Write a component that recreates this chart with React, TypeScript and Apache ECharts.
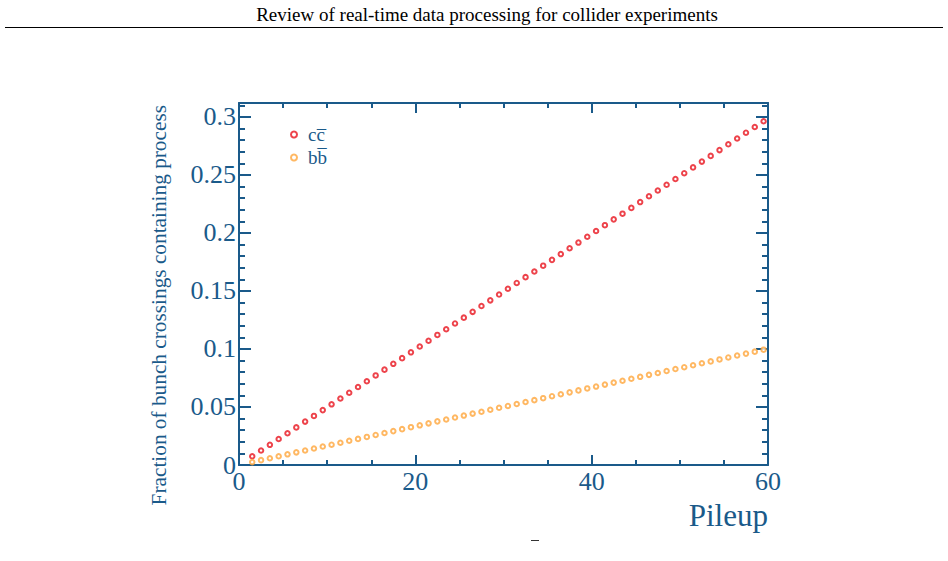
import React, { useEffect, useRef } from "react";
import * as echarts from "echarts";

const pileup = [1.5, 2.5, 3.5, 4.5, 5.5, 6.5, 7.5, 8.5, 9.5, 10.5, 11.5, 12.5, 13.5, 14.5, 15.5, 16.5, 17.5, 18.5, 19.5, 20.5, 21.5, 22.5, 23.5, 24.5, 25.5, 26.5, 27.5, 28.5, 29.5, 30.5, 31.5, 32.5, 33.5, 34.5, 35.5, 36.5, 37.5, 38.5, 39.5, 40.5, 41.5, 42.5, 43.5, 44.5, 45.5, 46.5, 47.5, 48.5, 49.5, 50.5, 51.5, 52.5, 53.5, 54.5, 55.5, 56.5, 57.5, 58.5, 59.5];

const ccbar = [0.0075, 0.0125, 0.0174, 0.0224, 0.0274, 0.0324, 0.0374, 0.0423, 0.0473, 0.0523, 0.0573, 0.0623, 0.0672, 0.0722, 0.0772, 0.0822, 0.0872, 0.0921, 0.0971, 0.1021, 0.1071, 0.1121, 0.117, 0.122, 0.127, 0.132, 0.137, 0.1419, 0.1469, 0.1519, 0.1569, 0.1619, 0.1668, 0.1718, 0.1768, 0.1818, 0.1868, 0.1917, 0.1967, 0.2017, 0.2067, 0.2117, 0.2166, 0.2216, 0.2266, 0.2316, 0.2366, 0.2415, 0.2465, 0.2515, 0.2565, 0.2615, 0.2664, 0.2714, 0.2764, 0.2814, 0.2864, 0.2913, 0.2963];

const bbbar = [0.0025, 0.0042, 0.0058, 0.0075, 0.0092, 0.0109, 0.0125, 0.0142, 0.0159, 0.0175, 0.0192, 0.0209, 0.0225, 0.0242, 0.0259, 0.0276, 0.0292, 0.0309, 0.0326, 0.0342, 0.0359, 0.0376, 0.0392, 0.0409, 0.0426, 0.0443, 0.0459, 0.0476, 0.0493, 0.0509, 0.0526, 0.0543, 0.0559, 0.0576, 0.0593, 0.061, 0.0626, 0.0643, 0.066, 0.0676, 0.0693, 0.071, 0.0726, 0.0743, 0.076, 0.0777, 0.0793, 0.081, 0.0827, 0.0843, 0.086, 0.0877, 0.0893, 0.091, 0.0927, 0.0944, 0.096, 0.0977, 0.0994];

const seriesNames = ["c\u0063\u0305", "b\u0062\u0305"];
const pageTitle = "Review of real-time data processing for collider experiments";
const xTitle = "Pileup";
const yTitle = "Fraction of bunch crossings containing process";

const BLUE = "#1a5a8a";
const RED = "#e8141e";
const ORANGE = "#ffa63c";
const FONT = "Liberation Serif";

export default function App() {
  const ref = useRef<HTMLDivElement>(null);
  useEffect(() => {
    if (!ref.current) return;
    const chart = echarts.init(ref.current, null, { renderer: "svg" });
    const xCommon = (show: boolean) => ({
      type: "value",
      min: 0,
      max: 60,
      interval: 20,
      axisLine: { show: true, onZero: false, lineStyle: { color: BLUE, width: 2 } },
      axisTick: { show: true, inside: true, length: 10, lineStyle: { color: BLUE, width: 2 } },
      minorTick: { show: true, splitNumber: 4, length: 5, lineStyle: { color: BLUE, width: 2 } },
      splitLine: { show: false },
      axisLabel: {
        show,
        color: BLUE,
        fontFamily: FONT,
        fontSize: 26,
        margin: 3,
      },
    });
    const yCommon = (show: boolean) => ({
      type: "value",
      min: 0,
      max: 0.312,
      interval: 0.05,
      axisLine: { show: true, onZero: false, lineStyle: { color: BLUE, width: 2 } },
      axisTick: { show: true, inside: true, length: 12, lineStyle: { color: BLUE, width: 2 } },
      minorTick: { show: true, splitNumber: 5, length: 6, lineStyle: { color: BLUE, width: 2 } },
      splitLine: { show: false },
      axisLabel: {
        show,
        color: BLUE,
        fontFamily: FONT,
        fontSize: 26,
        margin: 3,
        showMaxLabel: false,
      },
    });
    chart.setOption({
      animation: false,
      backgroundColor: "#ffffff",
      grid: { left: 239, right: 180, top: 103, bottom: 96 },
      xAxis: [
        { ...xCommon(true), position: "bottom" },
        { ...xCommon(false), position: "top" },
      ],
      yAxis: [
        { ...yCommon(true), position: "left" },
        { ...yCommon(false), position: "right" },
      ],
      legend: {
        orient: "vertical",
        left: 285,
        top: 120,
        itemGap: 4,
        itemWidth: 6,
        itemHeight: 6,
        textStyle: { color: BLUE, fontFamily: FONT, fontSize: 19, padding: [0, 0, 0, 6] },
        data: [
          { name: seriesNames[0], icon: "emptyCircle" },
          { name: seriesNames[1], icon: "emptyCircle" },
        ],
      },
      series: [
        {
          name: seriesNames[0],
          type: "scatter",
          symbol: "emptyCircle",
          symbolSize: 4.5,
          itemStyle: { color: RED, borderColor: RED, borderWidth: 0.9 },
          data: pileup.map((x, i) => [x, ccbar[i]]),
        },
        {
          name: seriesNames[1],
          type: "scatter",
          symbol: "emptyCircle",
          symbolSize: 4.5,
          itemStyle: { color: ORANGE, borderColor: ORANGE, borderWidth: 0.9 },
          data: pileup.map((x, i) => [x, bbbar[i]]),
        },
      ],
      graphic: [
        {
          type: "text",
          x: 487,
          y: 14,
          style: {
            text: pageTitle,
            fontFamily: FONT,
            fontSize: 19,
            fill: "#000",
            align: "center",
            verticalAlign: "middle",
          },
        },
        {
          type: "line",
          shape: { x1: 5, y1: 27.5, x2: 943, y2: 27.5 },
          style: { stroke: "#000", lineWidth: 1 },
        },
        {
          type: "text",
          x: 768,
          y: 515,
          style: {
            text: xTitle,
            fontFamily: FONT,
            fontSize: 31,
            fill: BLUE,
            align: "right",
            verticalAlign: "middle",
          },
        },
        {
          type: "text",
          x: 159,
          y: 105,
          rotation: Math.PI / 2,
          style: {
            text: yTitle,
            fontFamily: FONT,
            fontSize: 21.3,
            fill: BLUE,
            align: "right",
            verticalAlign: "middle",
          },
        },
        {
          type: "line",
          shape: { x1: 531, y1: 540.5, x2: 539, y2: 540.5 },
          style: { stroke: "#333", lineWidth: 1 },
        },
      ],
    });
    return () => chart.dispose();
  }, []);
  return (
    <div
      ref={ref}
      style={{ position: "fixed", left: 0, top: 0, width: 948, height: 561 }}
    />
  );
}
